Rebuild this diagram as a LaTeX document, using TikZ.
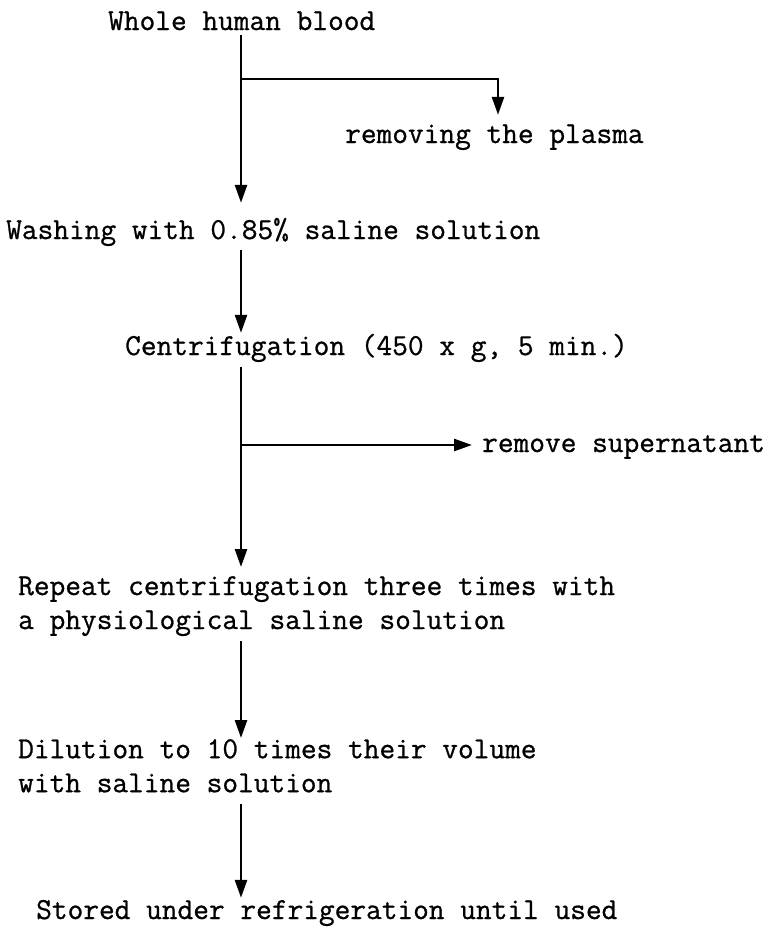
\documentclass[tikz,border=0pt]{standalone}
\usepackage{fontspec}
\newfontfamily\typed[FakeBold=0.8]{Latin Modern Mono}
\usetikzlibrary{arrows.meta, positioning}

\begin{document}
\begin{tikzpicture}[
    x=1pt, y=-1pt,
    stage/.style={anchor=base west, inner sep=0pt, text height=17pt, text depth=5pt,
        font=\typed\fontsize{30.5}{34}\selectfont},
    stage block/.style={anchor=north west, inner sep=0pt, align=left,
        font=\typed\fontsize{30.5}{34}\selectfont},
    flow/.style={draw, line width=2.6pt, -{Triangle[width=12pt, length=18pt]}}
]
\useasboundingbox (0,0) rectangle (776,927);

% Steps of the preparation
\node[stage] (blood) at (108,30) {Whole human blood};
\node[stage] (plasma) at (345,143) {removing the plasma};
\node[stage] (washing) at (6,239) {Washing with 0.85\% saline solution};
\node[stage] (centrif) at (125,355) {Centrifugation (450 x g, 5 min.)};
\node[stage] (supernatant) at (482,452) {remove supernatant};
\node[stage block] (repeat) at (18,576) {Repeat centrifugation three times with\\a physiological saline solution};
\node[stage block] (dilution) at (18,739) {Dilution to 10 times their volume\\with saline solution};
\node[stage] (stored) at (36,919) {Stored under refrigeration until used};

% Main line and the two side branches
\coordinate (spine) at (241,0);
\coordinate (split1) at (241,79);
\coordinate (drop) at (498,79);
\coordinate (split2) at (241,445);

\draw[flow, shorten >=19pt] (blood.south -| spine) -- (washing.north -| spine);
\draw[flow, shorten <=6pt, shorten >=5pt] (washing.south -| spine) -- (centrif.north -| spine);
\draw[flow, shorten <=7pt, shorten >=9pt] (centrif.south -| spine) -- (repeat.north -| spine);
\draw[flow, shorten <=5pt, shorten >=1pt] (repeat.south -| spine) -- (dilution.north -| spine);
\draw[flow, shorten <=11pt, shorten >=4pt] (dilution.south -| spine) -- (stored.north -| spine);

\draw[flow, shorten >=11pt] (split1) -- (drop) -- (drop |- plasma.north);
\draw[flow, shorten >=10pt] (split2) -- (split2 -| supernatant.west);

\end{tikzpicture}
\end{document}
